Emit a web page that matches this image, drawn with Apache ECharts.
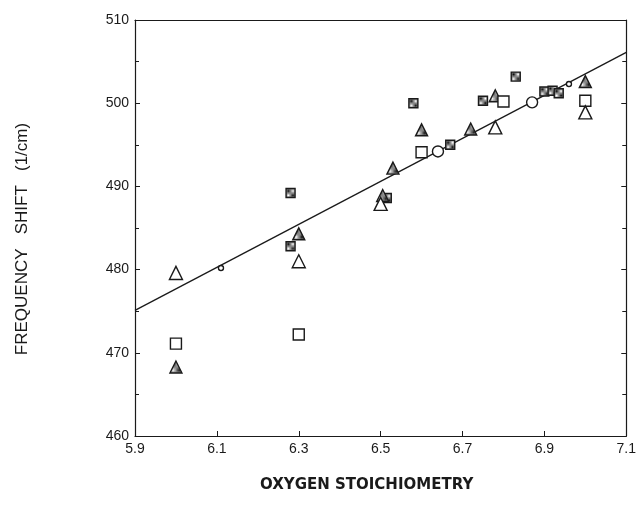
<!DOCTYPE html>
<html>
<head>
<meta charset="utf-8">
<script src="https://cdn.jsdelivr.net/npm/echarts@6/dist/echarts.min.js"></script>
<style>
  html, body { margin: 0; padding: 0; background: #fff; }
  #chart { width: 639px; height: 516px; }
</style>
</head>
<body>
<div id="chart"></div>
<script>
// data: [oxygen stoichiometry, frequency shift]
var hatchedSquares = [[6.28, 489.2], [6.28, 482.8], [6.515, 488.6], [6.58, 500.0], [6.67, 495.0],
                      [6.75, 500.3], [6.83, 503.2], [6.90, 501.4], [6.92, 501.5], [6.935, 501.2]];
var hatchedTriangles = [[6.0, 468.3], [6.30, 484.3], [6.505, 488.9], [6.53, 492.2], [6.60, 496.8],
                        [6.72, 496.9], [6.78, 500.9], [7.00, 502.6]];
var openSquares = [[6.0, 471.1], [6.30, 472.2], [6.60, 494.1], [6.80, 500.2], [7.00, 500.3]];
var openTriangles = [[6.0, 479.6], [6.30, 481.0], [6.50, 487.9], [6.78, 497.1], [7.00, 498.9]];
var openCircles = [[6.64, 494.2], [6.87, 500.1]];
var smallDots = [[6.11, 480.2], [6.96, 502.3]];
var fitLine = [[5.9, 475.1], [7.1, 506.1]];

var xTicks = { min: 5.9, max: 7.1, step: 0.2 };
var yTicks = { min: 460, max: 510, step: 10 };

// checker pattern for the shaded markers
var pat = document.createElement('canvas');
pat.width = 2; pat.height = 2;
var pc = pat.getContext('2d');
pc.fillStyle = '#fff'; pc.fillRect(0, 0, 2, 2);
pc.fillStyle = '#111'; pc.fillRect(0, 0, 1, 1); pc.fillRect(1, 1, 1, 1);
var hatch = { image: pat, repeat: 'repeat' };

var font = 'Liberation Sans';
var ink = '#1a1a1a';

function scatter(name, data, symbol, size, fill) {
    return {
        name: name,
        type: 'scatter',
        data: data,
        symbol: symbol,
        symbolSize: size,
        itemStyle: { color: fill, borderColor: ink, borderWidth: 1.4, opacity: 1 },
        z: 3
    };
}

var chart = echarts.init(document.getElementById('chart'));
chart.setOption({
    backgroundColor: '#fff',
    animation: false,
    grid: { left: 135, right: 11, top: 20, bottom: 80 },
    xAxis: [{
        type: 'value',
        min: xTicks.min, max: xTicks.max, interval: xTicks.step,
        name: 'OXYGEN STOICHIOMETRY',
        nameLocation: 'middle',
        nameGap: 42,
        nameTextStyle: {
            fontFamily: 'DejaVu Sans', fontSize: 15, fontWeight: 'bold', color: ink,
            padding: [0, 28, 0, 0]
        },
        axisLine: { onZero: false, lineStyle: { color: ink, width: 1.2 } },
        axisTick: { inside: true, length: 5, lineStyle: { color: ink } },
        axisLabel: {
            fontFamily: font, fontSize: 14, color: ink, margin: 6,
            formatter: function (v) { return v.toFixed(1); }
        },
        splitLine: { show: false }
    }, {
        type: 'value', position: 'top',
        min: xTicks.min, max: xTicks.max, interval: xTicks.step,
        axisLine: { onZero: false, lineStyle: { color: ink, width: 1.2 } },
        axisTick: { show: false }, axisLabel: { show: false }, splitLine: { show: false }
    }],
    yAxis: [{
        type: 'value',
        min: yTicks.min, max: yTicks.max, interval: yTicks.step,
        name: 'FREQUENCY   SHIFT   (1/cm)',
        nameLocation: 'middle',
        nameGap: 104,
        nameTextStyle: { fontFamily: font, fontSize: 17, color: ink, padding: [0, 22, 0, 0] },
        axisLine: { onZero: false, lineStyle: { color: ink, width: 1.2 } },
        axisTick: { inside: true, length: 5, lineStyle: { color: ink } },
        minorTick: { show: true, splitNumber: 2, length: 4, lineStyle: { color: ink } },
        axisLabel: { fontFamily: font, fontSize: 14, color: ink, margin: 6 },
        splitLine: { show: false }
    }, {
        type: 'value', position: 'right',
        min: yTicks.min, max: yTicks.max, interval: yTicks.step,
        axisLine: { onZero: false, lineStyle: { color: ink, width: 1.2 } },
        axisTick: { inside: true, length: 5, lineStyle: { color: ink } },
        minorTick: { show: true, splitNumber: 2, length: 4, lineStyle: { color: ink } },
        axisLabel: { show: false },
        splitLine: { show: false }
    }],
    series: [
        {
            name: 'fit',
            type: 'line',
            data: fitLine,
            symbol: 'none',
            lineStyle: { color: ink, width: 1.3 },
            z: 2
        },
        scatter('shaded squares', hatchedSquares, 'rect', 9, hatch),
        scatter('shaded triangles', hatchedTriangles, 'triangle', 12, hatch),
        scatter('open squares', openSquares, 'rect', 11, '#fff'),
        scatter('open triangles', openTriangles, 'triangle', 13, '#fff'),
        scatter('open circles', openCircles, 'circle', 11, '#fff'),
        scatter('small', smallDots, 'circle', 5, '#fff')
    ]
});
</script>
</body>
</html>
